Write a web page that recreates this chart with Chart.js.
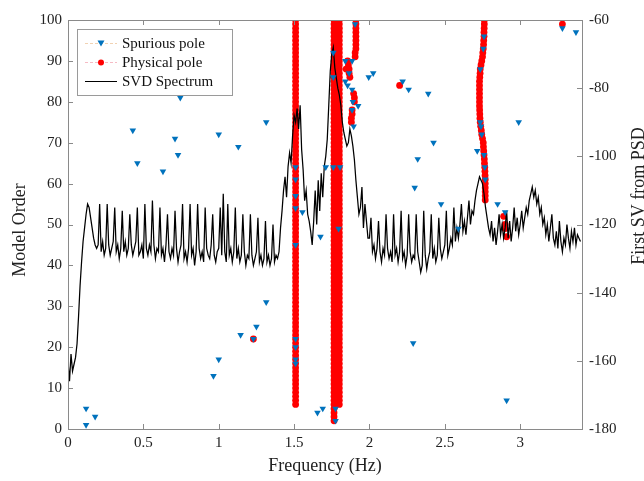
<!DOCTYPE html>
<html>
<head>
<meta charset="utf-8">
<script src="https://cdn.jsdelivr.net/npm/chart.js@4/dist/chart.umd.min.js"></script>
<style>
  html, body { margin: 0; padding: 0; background: #fff; }
  canvas { display: block; }
</style>
</head>
<body>
<canvas id="c" width="644" height="481"></canvas>
<script>
// ---- data ----
const xTickValues = [0, 0.5, 1, 1.5, 2, 2.5, 3];

// first singular value of PSD (dB), one value every 0.01 Hz from 0 Hz
const svdStartHz = 0;
const svdStepHz = 0.01;
const svdValues = [
  -160, -166, -158, -163, -161, -159, -155, -147, -138, -131,
  -125, -121, -117, -114, -115, -118, -121, -124, -126, -127,
  -126, -114, -128, -125, -129, -127, -114, -126, -129, -127,
  -125, -115, -128, -126, -130, -127, -116, -128, -125, -129,
  -127, -117, -126, -129, -127, -125, -115, -129, -128, -126,
  -130, -114, -127, -129, -126, -128, -113, -126, -130, -127,
  -128, -115, -129, -127, -131, -126, -117, -128, -130, -127,
  -129, -116, -127, -131, -128, -126, -114, -130, -128, -131,
  -127, -114, -129, -127, -132, -128, -114, -127, -130, -128,
  -131, -115, -127, -129, -130, -126, -117, -129, -131, -128,
  -127, -115, -129, -111, -128, -131, -114, -129, -127, -131,
  -128, -115, -130, -127, -131, -129, -117, -128, -132, -129,
  -130, -117, -129, -132, -130, -128, -118, -131, -129, -132,
  -130, -119, -131, -129, -132, -130, -120, -131, -129, -130,
  -128, -121, -116, -110, -106, -112, -103, -99, -102, -94,
  -88, -90, -86, -92, -85, -98, -104, -113, -110, -117,
  -119, -122, -126, -119, -110, -120, -107, -116, -105, -112,
  -103, -100, -95, -85, -75, -70, -68, -74, -77, -80,
  -82, -85, -90, -93, -95, -97, -96, -92, -94, -97,
  -101, -107, -112, -117, -115, -109, -121, -114, -119, -124,
  -124, -118, -128, -126, -130, -127, -119, -128, -131, -127,
  -129, -117, -127, -130, -128, -131, -117, -129, -127, -131,
  -128, -116, -130, -128, -132, -129, -117, -128, -131, -129,
  -130, -117, -128, -131, -134, -132, -116, -129, -133, -130,
  -128, -117, -130, -127, -131, -129, -118, -127, -130, -128,
  -126, -116, -129, -127, -124, -126, -115, -125, -121, -124,
  -120, -114, -122, -119, -123, -118, -113, -120, -116, -117,
  -113, -110, -108, -106, -107, -108, -111, -115, -118, -121,
  -123, -119, -125, -121, -126, -122, -117, -123, -120, -124,
  -121, -116, -124, -119, -125, -121, -115, -122, -118, -123,
  -120, -116, -121, -118, -115, -117, -113, -111, -109, -112,
  -110, -114, -112, -117, -115, -120, -118, -123, -120, -125,
  -121, -117, -124, -126, -122, -127, -119, -125, -128, -124,
  -126, -120, -124, -127, -122, -125, -121, -126, -123, -124,
  -125
];

// spurious poles: frequency (Hz) and model order
const spuriousFreq = [
  0.12, 0.18, 0.12, 0.745, 0.43, 0.46, 0.71, 0.73, 0.63, 1.0, 1.13, 1.315,
  1.315, 1.145, 1.25, 1.23, 1.0, 0.965,
  1.51, 1.51, 1.51, 1.51, 1.555, 1.51, 1.51, 1.51, 1.51, 1.51,
  1.71, 1.675, 1.76, 1.76, 1.76, 1.805, 1.795,
  1.905, 1.84, 1.885, 1.865, 1.84, 1.855, 1.885, 1.89, 1.885, 1.925, 1.895, 1.995, 2.025,
  1.655, 1.69, 1.775, 1.775,
  2.22, 2.26, 2.39, 2.425, 2.32, 2.30, 2.475, 2.59, 2.29,
  2.76, 2.755, 2.735, 2.735, 2.74, 2.745, 2.715, 2.76, 2.765, 2.768,
  2.99, 3.28, 3.37, 2.85, 2.90, 2.91
];
const spuriousOrder = [
  5, 3, 1, 81, 73, 65, 71, 67, 63, 72, 69, 75,
  31, 23, 25, 22, 17, 13,
  64, 61, 57, 54, 53, 45, 22, 20, 17, 16,
  64, 47, 92, 86, 64, 64, 49,
  99, 90, 90, 87, 85, 84, 83, 80, 78, 79, 74, 86, 87,
  4, 5, 5, 2,
  85, 83, 82, 70, 66, 59, 55, 49, 21,
  96, 93, 88, 75, 74, 72, 68, 67, 64, 61,
  75, 98, 97, 55, 53, 7
];

// physical poles, stable columns: one frequency per model order
const colAFirstOrder = 6;
const colAFreq = [
  1.51, 1.51, 1.51, 1.51, 1.51, 1.51, 1.51, 1.51, 1.51, 1.51,
  1.51, 1.51, 1.51, 1.51, 1.51, 1.51, 1.51, 1.51, 1.51, 1.51,
  1.51, 1.51, 1.51, 1.51, 1.51, 1.51, 1.51, 1.51, 1.51, 1.51,
  1.51, 1.51, 1.51, 1.51, 1.51, 1.51, 1.51, 1.51, 1.51, 1.51,
  1.51, 1.51, 1.51, 1.51, 1.51, 1.51, 1.51, 1.51, 1.51, 1.51,
  1.51, 1.51, 1.51, 1.51, 1.51, 1.51, 1.51, 1.51, 1.51, 1.51,
  1.51, 1.51, 1.51, 1.51, 1.51, 1.51, 1.51, 1.51, 1.51, 1.51,
  1.51, 1.51, 1.51, 1.51, 1.51, 1.51, 1.51, 1.51, 1.51, 1.51,
  1.51, 1.51, 1.51, 1.51, 1.51, 1.51, 1.51, 1.51, 1.51, 1.51,
  1.51, 1.51, 1.51, 1.51, 1.51
];
const colBFirstOrder = 2;
const colBFreq = [
  1.765, 1.765, 1.765, 1.765, 1.765, 1.765, 1.765, 1.765, 1.765, 1.765,
  1.765, 1.765, 1.765, 1.765, 1.765, 1.765, 1.765, 1.765, 1.765, 1.765,
  1.765, 1.765, 1.765, 1.765, 1.765, 1.765, 1.765, 1.765, 1.765, 1.765,
  1.765, 1.765, 1.765, 1.765, 1.765, 1.765, 1.765, 1.765, 1.765, 1.765,
  1.765, 1.765, 1.765, 1.765, 1.765, 1.765, 1.765, 1.765, 1.765, 1.765,
  1.765, 1.765, 1.765, 1.765, 1.765, 1.765, 1.765, 1.765, 1.765, 1.765,
  1.765, 1.765, 1.765, 1.765, 1.765, 1.765, 1.765, 1.765, 1.765, 1.765,
  1.765, 1.765, 1.765, 1.765, 1.765, 1.765, 1.765, 1.765, 1.765, 1.765,
  1.765, 1.765, 1.765, 1.765, 1.765, 1.765, 1.765, 1.765, 1.765, 1.765,
  1.765, 1.765, 1.765, 1.765, 1.765, 1.765, 1.765, 1.765, 1.765
];
const colCFirstOrder = 6;
const colCFreq = [
  1.80, 1.80, 1.80, 1.80, 1.80, 1.80, 1.80, 1.80, 1.80, 1.80,
  1.80, 1.80, 1.80, 1.80, 1.80, 1.80, 1.80, 1.80, 1.80, 1.80,
  1.80, 1.80, 1.80, 1.80, 1.80, 1.80, 1.80, 1.80, 1.80, 1.80,
  1.80, 1.80, 1.80, 1.80, 1.80, 1.80, 1.80, 1.80, 1.80, 1.80,
  1.80, 1.80, 1.80, 1.80, 1.80, 1.80, 1.80, 1.80, 1.80, 1.80,
  1.80, 1.80, 1.80, 1.80, 1.80, 1.80, 1.80, 1.80, 1.80, 1.80,
  1.80, 1.80, 1.80, 1.80, 1.80, 1.80, 1.80, 1.80, 1.80, 1.80,
  1.80, 1.80, 1.80, 1.80, 1.80, 1.80, 1.80, 1.80, 1.80, 1.80,
  1.80, 1.80, 1.80, 1.80, 1.80, 1.80, 1.80, 1.80, 1.80, 1.80,
  1.80, 1.80, 1.80, 1.80, 1.80
];
const colDFirstOrder = 91;
const colDFreq = [1.905, 1.905, 1.91, 1.91, 1.91, 1.91, 1.91, 1.91, 1.91, 1.91];
const colEFirstOrder = 56;
const colEFreq = [
  2.768, 2.768, 2.768, 2.768, 2.768, 2.768, 2.767, 2.766, 2.765, 2.763,
  2.762, 2.76, 2.758, 2.756, 2.755, 2.75, 2.745, 2.742, 2.738, 2.735,
  2.733, 2.732, 2.731, 2.73, 2.73, 2.73, 2.73, 2.73, 2.73, 2.73,
  2.732, 2.734, 2.735, 2.74, 2.745, 2.75, 2.752, 2.755, 2.757, 2.758,
  2.76, 2.76, 2.761, 2.762, 2.762
];
// physical poles, scattered
const physExtraFreq = [
  1.855, 1.86, 1.865, 1.865, 1.87, 1.845,
  1.895, 1.90, 1.90, 1.885, 1.885, 1.88, 1.88,
  2.20, 3.28, 1.23,
  2.89, 2.90, 2.90, 2.91
];
const physExtraOrder = [
  90, 89, 88, 87, 86, 88,
  82, 81, 80, 78, 77, 76, 75,
  84, 99, 22,
  52, 50, 49, 47
];

// ---- build point lists ----
function column(first, freqs) {
  return freqs.map((f, i) => ({ x: f, y: first + i }));
}
const physicalPoints = [].concat(
  column(colAFirstOrder, colAFreq),
  column(colBFirstOrder, colBFreq),
  column(colCFirstOrder, colCFreq),
  column(colDFirstOrder, colDFreq),
  column(colEFirstOrder, colEFreq),
  physExtraFreq.map((f, i) => ({ x: f, y: physExtraOrder[i] }))
);
const spuriousPoints = spuriousFreq.map((f, i) => ({ x: f, y: spuriousOrder[i] }));
const svdPoints = svdValues.map((v, i) => ({ x: +(svdStartHz + i * svdStepHz).toFixed(2), y: v }));

const SERIF = '"Liberation Serif", "Times New Roman", serif';
const BLUE = '#0072BD';
const RED = '#ff0000';

// MATLAB-like frame, inner ticks, legend and axis titles
const framePlugin = {
  id: 'frame',
  afterDraw(chart) {
    const { ctx, chartArea: a, scales } = chart;
    ctx.save();
    ctx.strokeStyle = '#8a8a8a';
    ctx.lineWidth = 1;
    ctx.strokeRect(Math.round(a.left) + 0.5, Math.round(a.top) + 0.5,
      Math.round(a.right - a.left), Math.round(a.bottom - a.top));

    ctx.beginPath();
    scales.x.ticks.forEach(t => {
      const px = Math.round(scales.x.getPixelForValue(t.value)) + 0.5;
      ctx.moveTo(px, a.bottom); ctx.lineTo(px, a.bottom - 5);
      ctx.moveTo(px, a.top); ctx.lineTo(px, a.top + 5);
    });
    scales.y.ticks.forEach(t => {
      const py = Math.round(scales.y.getPixelForValue(t.value)) + 0.5;
      ctx.moveTo(a.left, py); ctx.lineTo(a.left + 5, py);
    });
    scales.y2.ticks.forEach(t => {
      const py = Math.round(scales.y2.getPixelForValue(t.value)) + 0.5;
      ctx.moveTo(a.right, py); ctx.lineTo(a.right - 5, py);
    });
    ctx.stroke();

    // legend
    const lx = 77, ly = 29, lw = 155, lh = 66;
    ctx.fillStyle = '#fff';
    ctx.fillRect(lx, ly, lw, lh);
    ctx.strokeStyle = '#9a9a9a';
    ctx.strokeRect(lx + 0.5, ly + 0.5, lw, lh);
    const rows = [
      { label: 'Spurious pole', y: 43, line: 'rgba(240,205,170,0.9)', dash: [3, 2], marker: 'tri' },
      { label: 'Physical pole', y: 62, line: 'rgba(245,180,190,0.9)', dash: [3, 2], marker: 'dot' },
      { label: 'SVD Spectrum', y: 81, line: '#000', dash: [], marker: null }
    ];
    rows.forEach(r => {
      ctx.setLineDash(r.dash);
      ctx.strokeStyle = r.line;
      ctx.lineWidth = 1;
      ctx.beginPath();
      ctx.moveTo(85, r.y + 0.5); ctx.lineTo(117, r.y + 0.5);
      ctx.stroke();
      ctx.setLineDash([]);
      if (r.marker === 'tri') {
        ctx.fillStyle = BLUE;
        ctx.beginPath();
        ctx.moveTo(97.5, r.y - 2.5); ctx.lineTo(104.5, r.y - 2.5); ctx.lineTo(101, r.y + 3.5);
        ctx.closePath(); ctx.fill();
      } else if (r.marker === 'dot') {
        ctx.fillStyle = RED;
        ctx.beginPath(); ctx.arc(101, r.y + 0.5, 3, 0, Math.PI * 2); ctx.fill();
      }
      ctx.fillStyle = '#111';
      ctx.font = '15px ' + SERIF;
      ctx.textAlign = 'left';
      ctx.textBaseline = 'middle';
      ctx.fillText(r.label, 122, r.y + 1);
    });

    // axis titles
    ctx.fillStyle = '#222';
    ctx.font = '18px ' + SERIF;
    ctx.textAlign = 'center';
    ctx.textBaseline = 'middle';
    ctx.fillText('Frequency (Hz)', (a.left + a.right) / 2, 466);
    ctx.save();
    ctx.translate(20, 230); ctx.rotate(-Math.PI / 2);
    ctx.fillText('Model Order', 0, 0);
    ctx.restore();
    ctx.save();
    ctx.translate(639, 196); ctx.rotate(-Math.PI / 2);
    ctx.fillText('First SV from PSD', 0, 0);
    ctx.restore();
    ctx.restore();
  }
};

const tickFont = { family: SERIF, size: 15 };

new Chart(document.getElementById('c').getContext('2d'), {
  type: 'scatter',
  data: {
    datasets: [
      {
        label: 'Spurious pole',
        data: spuriousPoints,
        yAxisID: 'y',
        order: 0,
        pointStyle: 'triangle',
        pointRotation: 180,
        pointRadius: 3.8,
        pointBackgroundColor: BLUE,
        pointBorderColor: BLUE,
        pointBorderWidth: 0,
        backgroundColor: BLUE,
        borderColor: BLUE
      },
      {
        label: 'Physical pole',
        data: physicalPoints,
        yAxisID: 'y',
        order: 2,
        pointStyle: 'circle',
        pointRadius: 3.4,
        pointBackgroundColor: RED,
        pointBorderColor: RED,
        pointBorderWidth: 0,
        backgroundColor: RED,
        borderColor: RED
      },
      {
        label: 'SVD Spectrum',
        type: 'line',
        data: svdPoints,
        yAxisID: 'y2',
        order: 1,
        showLine: true,
        borderColor: '#000',
        borderWidth: 1.25,
        pointRadius: 0,
        tension: 0,
        fill: false
      }
    ]
  },
  options: {
    responsive: false,
    animation: false,
    layout: { padding: { top: 20, left: 0, right: 0, bottom: 0 } },
    plugins: { legend: { display: false }, tooltip: { enabled: false } },
    scales: {
      x: {
        type: 'linear',
        position: 'bottom',
        min: 0,
        max: 3.41,
        grid: { display: false, drawTicks: false },
        border: { display: false },
        afterBuildTicks: s => { s.ticks = xTickValues.map(v => ({ value: v })); },
        ticks: { font: tickFont, color: '#222', padding: 5, maxRotation: 0, callback: v => String(v) },
        afterFit: s => { s.height = 52; }
      },
      y: {
        type: 'linear',
        position: 'left',
        min: 0,
        max: 100,
        grid: { display: false, drawTicks: false },
        border: { display: false },
        ticks: { stepSize: 10, font: tickFont, color: '#222', padding: 6 },
        afterFit: s => { s.width = 68; }
      },
      y2: {
        type: 'linear',
        position: 'right',
        min: -180,
        max: -60,
        grid: { display: false, drawTicks: false },
        border: { display: false },
        ticks: { stepSize: 20, font: tickFont, color: '#222', padding: 7 },
        afterFit: s => { s.width = 62; }
      }
    }
  },
  plugins: [framePlugin]
});
</script>
</body>
</html>
